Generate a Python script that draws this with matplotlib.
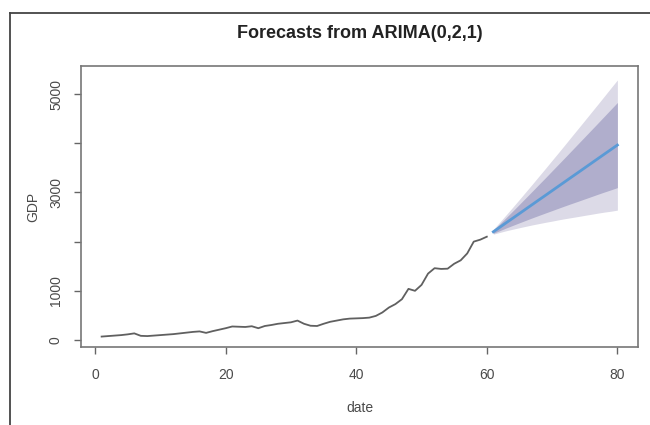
import matplotlib
matplotlib.use("Agg")
import matplotlib.pyplot as plt
from matplotlib.lines import Line2D

plt.rcParams['font.family'] = ['Liberation Sans', 'DejaVu Sans']

# observed GDP series, t = 1..60
t_obs = list(range(1, 61))
gdp = [70, 80, 90, 100, 115, 135, 85, 80, 90, 100,
       110, 120, 135, 150, 165, 175, 145, 180, 210, 240,
       275, 270, 265, 280, 240, 285, 305, 330, 345, 360,
       395, 330, 290, 285, 330, 370, 395, 420, 435, 440,
       445, 455, 490, 560, 660, 730, 830, 1040, 1000, 1120,
       1350, 1460, 1445, 1450, 1550, 1620, 1760, 2000, 2040, 2100]

# forecast, t = 61..80
t_fc = list(range(61, 81))
fc_mean = [2200, 2293, 2386, 2478, 2571, 2664, 2757, 2850, 2942, 3035,
           3128, 3221, 3314, 3406, 3499, 3592, 3685, 3778, 3870, 3963]
lo80 = [2168, 2224, 2279, 2331, 2383, 2434, 2485, 2534, 2583, 2631,
        2680, 2728, 2775, 2821, 2868, 2915, 2962, 3008, 3052, 3098]
hi80 = [2232, 2362, 2493, 2625, 2759, 2894, 3029, 3166, 3301, 3439,
        3576, 3714, 3853, 3991, 4130, 4269, 4408, 4548, 4688, 4828]
lo95 = [2151, 2187, 2222, 2253, 2283, 2312, 2341, 2367, 2393, 2417,
        2443, 2467, 2489, 2511, 2534, 2556, 2579, 2600, 2618, 2640]
hi95 = [2249, 2399, 2550, 2703, 2859, 3016, 3173, 3333, 3491, 3653,
        3813, 3975, 4139, 4301, 4464, 4628, 4791, 4956, 5122, 5286]

x_ticks = [0, 20, 40, 60, 80]
y_ticks = [0, 1000, 2000, 3000, 4000, 5000]
y_labels = ['0', '1000', '', '3000', '', '5000']

fig = plt.figure(figsize=(6.5, 4.25), dpi=100)
ax = fig.add_axes([81 / 650, 1 - 347 / 425, 557 / 650, 281 / 425])

ax.fill_between(t_fc, lo95, hi95, color='#dcdae7', linewidth=0)
ax.fill_between(t_fc, lo80, hi80, color='#b0aecc', linewidth=0)
ax.plot(t_fc, fc_mean, color='#5a9ad6', linewidth=2)
ax.plot(t_obs, gdp, color='#606060', linewidth=1.3)

ax.set_xlim(-2.16, 83.16)
ax.set_ylim(-142, 5570)
ax.set_xticks(x_ticks)
ax.set_yticks(y_ticks)
ax.set_yticklabels(y_labels, rotation=90, va='center')

for s in ax.spines.values():
    s.set_color('#777777')
    s.set_linewidth(1.2)
ax.tick_params(axis='both', direction='out', length=5, width=1, color='#666666',
               labelsize=10, labelcolor='#4a4a4a')
ax.tick_params(axis='x', pad=10)
ax.tick_params(axis='y', pad=8)

ax.set_title('Forecasts from ARIMA(0,2,1)', fontsize=13, fontweight='bold',
             color='#222222', pad=20)
ax.set_xlabel('date', fontsize=10, color='#4a4a4a', labelpad=14)
ax.set_ylabel('GDP', fontsize=10, color='#4a4a4a', labelpad=6)

# screenshot frame (top and left edge)
fig.add_artist(Line2D([10 / 650, 1.0], [1 - 13 / 425, 1 - 13 / 425],
                      color='#444444', linewidth=1.3, transform=fig.transFigure))
fig.add_artist(Line2D([10 / 650, 10 / 650], [0, 1 - 13 / 425],
                      color='#444444', linewidth=1.3, transform=fig.transFigure))

fig.savefig('out.png', dpi=100)
